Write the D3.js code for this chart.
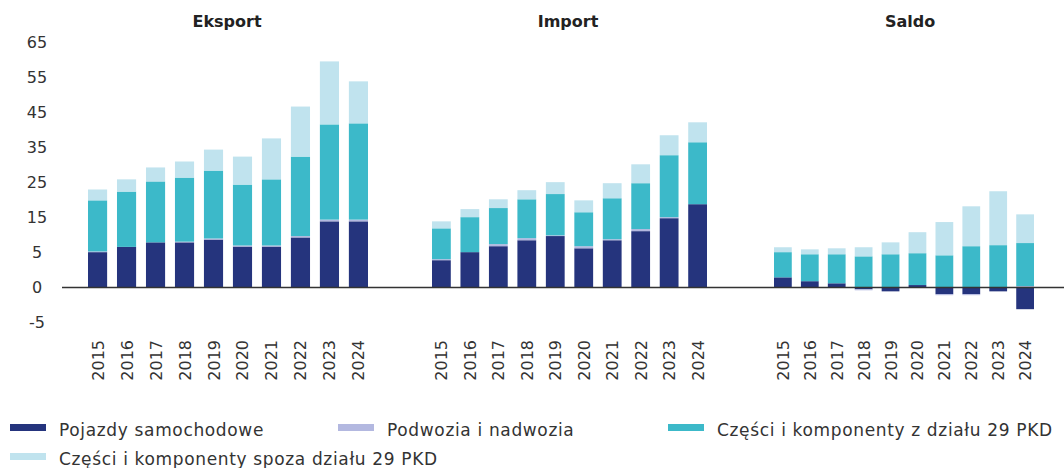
<!DOCTYPE html>
<html>
<head>
<meta charset="utf-8">
<script src="https://cdn.jsdelivr.net/npm/d3@7"></script>
<style>
  body { margin: 0; background: #fff; }
  svg { display: block; font-family: "DejaVu Sans", sans-serif; }
</style>
</head>
<body>
<svg id="chart" width="1064" height="468"></svg>
<script>
// --- data ---
const years = ["2015", "2016", "2017", "2018", "2019", "2020", "2021", "2022", "2023", "2024"];
const seriesNames = ["Pojazdy samochodowe", "Podwozia i nadwozia", "Części i komponenty z działu 29 PKD", "Części i komponenty spoza działu 29 PKD"];
const panelTitles = ["Eksport", "Import", "Saldo"];

const eksportPojazdy  = [10.1, 11.6, 12.9, 12.9, 13.7, 11.7, 11.7, 14.3, 18.9, 18.9];
const eksportPodwozia = [0.2, 0.0, 0.0, 0.2, 0.3, 0.3, 0.3, 0.4, 0.5, 0.5];
const eksportCzesci29 = [14.6, 15.8, 17.4, 18.3, 19.4, 17.4, 18.9, 22.7, 27.2, 27.5];
const eksportCzesciInne = [3.1, 3.5, 4.0, 4.6, 6.0, 8.0, 11.7, 14.3, 18.0, 12.0];

const importPojazdy  = [7.8, 10.1, 11.8, 13.5, 14.7, 11.2, 13.5, 16.1, 19.8, 23.8];
const importPodwozia = [0.3, 0.0, 0.6, 0.6, 0.2, 0.6, 0.3, 0.6, 0.3, 0.0];
const importCzesci29 = [8.8, 10.0, 10.3, 11.1, 11.8, 9.7, 11.7, 13.1, 17.7, 17.7];
const importCzesciInne = [2.0, 2.3, 2.5, 2.6, 3.4, 3.4, 4.3, 5.4, 5.7, 5.7];

const saldoPojazdy  = [2.9, 1.8, 1.2, -0.5, -1.1, 0.7, -1.9, -1.9, -1.1, -6.2];
const saldoPodwozia = [0.0, 0.0, 0.0, -0.3, 0.0, 0.0, -0.3, -0.3, 0.0, 0.4];
const saldoCzesci29 = [7.2, 7.7, 8.3, 8.9, 9.5, 9.1, 9.2, 11.8, 12.1, 12.3];
const saldoCzesciInne = [1.4, 1.4, 1.7, 2.6, 3.4, 6.0, 9.5, 11.4, 15.4, 8.2];

const yTickValues = [-10, 0, 10, 20, 30, 40, 50, 60, 70];
const yTickLabels = ["-5", "0", "5", "15", "25", "35", "45", "55", "65"];

// --- layout ---
const colors = ["#25347d", "#b3b8e0", "#3cb9c9", "#c0e3ee"];
const panelRanges = [[88, 368], [432, 707], [774, 1034]];
const titleX = [227, 568, 910];
const keys = ["a", "b", "c", "d"];

const panels = [
  [eksportPojazdy, eksportPodwozia, eksportCzesci29, eksportCzesciInne],
  [importPojazdy, importPodwozia, importCzesci29, importCzesciInne],
  [saldoPojazdy, saldoPodwozia, saldoCzesci29, saldoCzesciInne]
];

const svg = d3.select("#chart");
const y = d3.scaleLinear().domain([-10, 70]).range([322.5, 42.5]);

// y labels (no axis line)
svg.append("g").selectAll("text")
  .data(yTickValues)
  .enter().append("text")
  .attr("x", 37)
  .attr("y", d => y(d))
  .attr("dy", "0.36em")
  .attr("text-anchor", "middle")
  .attr("font-size", 16)
  .attr("fill", "#333")
  .text((d, i) => yTickLabels[i]);

const stack = d3.stack().keys(keys).offset(d3.stackOffsetDiverging);

panels.forEach((series, p) => {
  const rows = years.map((yr, i) => ({
    year: yr, a: series[0][i], b: series[1][i], c: series[2][i], d: series[3][i]
  }));
  const x = d3.scaleBand().domain(years).range(panelRanges[p]).paddingInner(0.34).paddingOuter(0);
  const g = svg.append("g");

  g.selectAll("g.layer")
    .data(stack(rows))
    .enter().append("g")
    .attr("class", "layer")
    .attr("fill", (d, i) => colors[i])
    .selectAll("rect")
    .data(d => d)
    .enter().append("rect")
    .attr("x", d => x(d.data.year))
    .attr("width", x.bandwidth())
    .attr("y", d => y(Math.max(d[0], d[1])))
    .attr("height", d => Math.abs(y(d[0]) - y(d[1])));

  // year labels
  g.selectAll("text.year")
    .data(years)
    .enter().append("text")
    .attr("class", "year")
    .attr("transform", d => `translate(${x(d) + x.bandwidth() / 2 + 6},340) rotate(-90)`)
    .attr("text-anchor", "end")
    .attr("font-size", 16)
    .attr("fill", "#333")
    .text(d => d);

  // panel title
  svg.append("text")
    .attr("x", titleX[p])
    .attr("y", 27)
    .attr("text-anchor", "middle")
    .attr("font-size", 16)
    .attr("font-weight", "bold")
    .attr("fill", "#222")
    .text(panelTitles[p]);
});

// zero line
svg.append("line")
  .attr("x1", 62).attr("x2", 1064)
  .attr("y1", y(0)).attr("y2", y(0))
  .attr("stroke", "#333")
  .attr("stroke-width", 1.5);

// legend
const legendPos = [[10, 430], [338, 430], [668, 430], [10, 459]];
const legend = svg.append("g").selectAll("g")
  .data(seriesNames)
  .enter().append("g")
  .attr("transform", (d, i) => `translate(${legendPos[i][0]},${legendPos[i][1]})`);

legend.append("rect")
  .attr("x", 0).attr("y", -6)
  .attr("width", 36).attr("height", 7)
  .attr("fill", (d, i) => colors[i]);

legend.append("text")
  .attr("x", 49)
  .attr("y", 0)
  .attr("dy", "0.36em")
  .attr("font-size", 17)
  .attr("letter-spacing", 0.65)
  .attr("fill", "#333")
  .text(d => d);
</script>
</body>
</html>
